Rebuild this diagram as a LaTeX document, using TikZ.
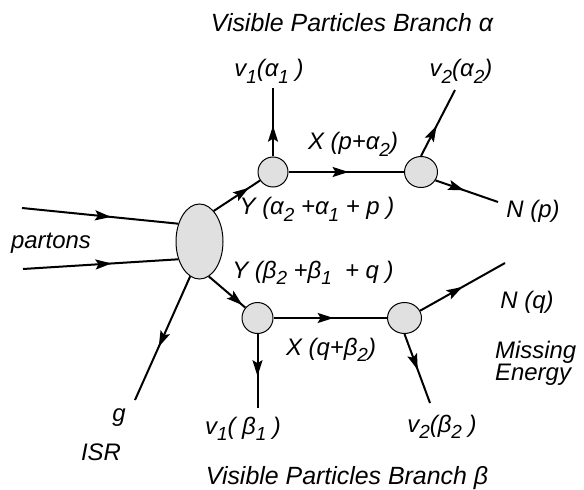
\documentclass[tikz,border=0pt]{standalone}
\usepackage{fontspec}
\setmainfont{Liberation Sans}
\usetikzlibrary{arrows.meta,decorations.markings,shapes.geometric}
\definecolor{blobgray}{RGB}{224,224,224}
\newcommand{\sbx}[1]{\raisebox{-0.5ex}{\fontsize{19}{19}\selectfont #1}}
\begin{document}
\begin{tikzpicture}[x=1bp,y=-1bp,
  lbl/.style={font=\fontsize{24}{24}\selectfont\itshape, inner sep=0pt, anchor=base},
  ttl/.style={lbl, font=\fontsize{25}{25}\selectfont\itshape},
  line/.style={line width=2bp},
  arr/.style={postaction={decorate,decoration={markings,mark=at position #1 with {\arrow{Stealth[length=16bp,width=10bp,inset=3bp]}}}}},
  blob/.style={ellipse, draw, line width=1bp, fill=blobgray, inner sep=0pt}
]
\useasboundingbox (0,0) rectangle (584,490);

% blobs
\node[blob, minimum width=47bp, minimum height=75bp] (E) at (199.5,241.5) {};
\node[blob, minimum width=30bp, minimum height=30bp] (C1) at (273,172) {};
\node[blob, minimum width=33bp, minimum height=31bp] (C2) at (421,172) {};
\node[blob, minimum width=31bp, minimum height=31bp] (C3) at (257.5,318) {};
\node[blob, minimum width=34bp, minimum height=31bp] (C4) at (404.5,318) {};

% free ends
\coordinate (pa) at (22,208);
\coordinate (pb) at (23,269);
\coordinate (v1a) at (273,88);
\coordinate (v2a) at (455,90);
\coordinate (np) at (498,202);
\coordinate (v1b) at (257.5,408);
\coordinate (v2b) at (430,403);
\coordinate (nq) at (505,263);
\coordinate (gg) at (135,400);

% connectors
\draw[line,arr=0.57] (pa) -- (E.140);
\draw[line,arr=0.57] (pb) -- (E.220);
\draw[line,arr=0.76] (E.65) -- (C1);
\draw[line,arr=0.45] (C1.north) -- (v1a);
\draw[line,arr=0.52] (C1) -- (C2);
\draw[line,arr=0.46] (C2.north) -- (v2a);
\draw[line,arr=0.46] (C2.-30) -- (np);
\draw[line,arr=0.92] (E.-75) -- (C3);
\draw[line,arr=0.53] (C3) -- (C4);
\draw[line,arr=0.57] (C3.south) -- (v1b);
\draw[line,arr=0.52] (C4.south) -- (v2b);
\draw[line,arr=0.5] (C4.25) -- (nq);
\draw[line,arr=0.57] (E.-105) -- (gg);

% labels
\node[ttl] (ta) at (352,32) {Visible Particles Branch α};
\node[ttl] (tb) at (347,484) {Visible Particles Branch β};
\node[lbl] (lv1a) at (269,77) {v\sbx{1}(α\sbx{1} )};
\node[lbl] (lv2a) at (461,77) {v\sbx{2}(α\sbx{2})};
\node[lbl] (lxa) at (353,150) {X (p+α\sbx{2})};
\node[lbl] (lya) at (317,215) {Y (α\sbx{2} +α\sbx{1} + p )};
\node[lbl] (lnp) at (533,218) {N (p)};
\node[lbl] (lpart) at (51,248) {partons};
\node[lbl] (lyb) at (313,278) {Y (β\sbx{2} +β\sbx{1} \ + q )};
\node[lbl] (lnq) at (527,308) {N (q)};
\node[lbl] (lxb) at (331,355) {X (q+β\sbx{2})};
\node[lbl, anchor=north west, align=left, font=\fontsize{24}{20}\selectfont\itshape] (lme) at (495,340.5) {Missing\\Energy};
\node[lbl] (lg) at (119,421) {g};
\node[lbl] (lisr) at (101,460) {ISR};
\node[lbl] (lv1b) at (243,434) {v\sbx{1}( β\sbx{1} )};
\node[lbl] (lv2b) at (442,432) {v\sbx{2}(β\sbx{2} )};
\end{tikzpicture}
\end{document}
